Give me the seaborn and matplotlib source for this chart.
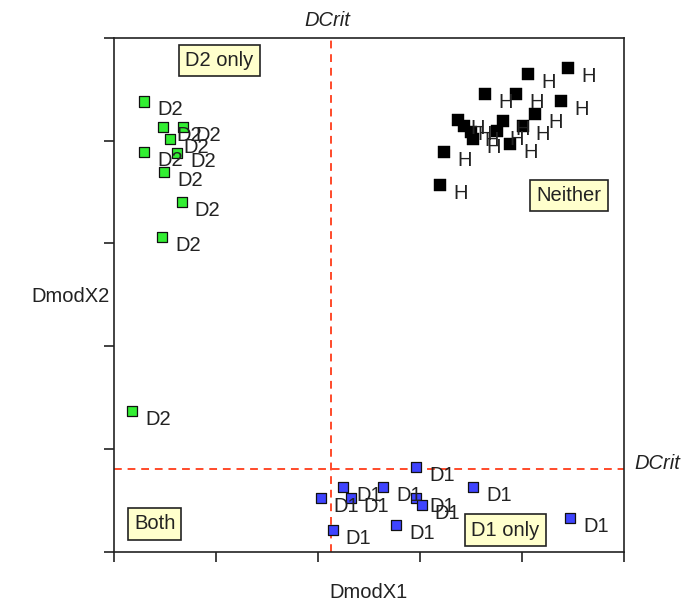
import matplotlib
matplotlib.use("Agg")
import matplotlib.pyplot as plt
import seaborn as sns
import pandas as pd

# ---- data ----
d2_x = [0.297, 0.483, 0.674, 0.549, 0.297, 0.621, 0.493, 0.664, 0.474, 0.179]
d2_y = [4.382, 4.138, 4.138, 4.016, 3.895, 3.885, 3.694, 3.402, 3.067, 1.370]

h_x = [4.062, 4.454, 3.637, 3.941, 4.382, 3.370, 3.434, 3.500, 3.523, 3.752,
       3.811, 4.007, 4.127, 3.882, 3.238, 3.196]
h_y = [4.648, 4.707, 4.454, 4.454, 4.382, 4.203, 4.145, 4.087, 4.016, 4.090,
       4.197, 4.145, 4.259, 3.967, 3.889, 3.571]

d1_x = [2.961, 2.248, 2.640, 2.026, 2.321, 2.961, 3.017, 2.144, 2.765, 3.523, 4.471]
d1_y = [0.822, 0.633, 0.633, 0.520, 0.520, 0.520, 0.455, 0.211, 0.260, 0.627, 0.331]

dcrit_x = 2.127
dcrit_y = 0.805

region_labels = ["D2 only", "Neither", "Both", "D1 only"]
region_x = [1.034, 4.461, 0.399, 3.838]
region_y = [4.778, 3.463, 0.270, 0.211]

x_ticks = [0, 1, 2, 3, 4, 5]
y_ticks = [0, 1, 2, 3, 4, 5]

# ---- style ----
sns.set_style("white")
plt.rcParams["font.family"] = ["Liberation Sans", "DejaVu Sans"]
FS = 14.5
TXT = "#222222"

fig = plt.figure(figsize=(6.87, 6.03), dpi=100)
ax = fig.add_axes([114 / 687, (603 - 551.7) / 603, 510 / 687, 513.7 / 603])

df = pd.concat([
    pd.DataFrame({"x": d2_x, "y": d2_y, "grp": "D2"}),
    pd.DataFrame({"x": d1_x, "y": d1_y, "grp": "D1"}),
])
sns.scatterplot(data=df, x="x", y="y", hue="grp", palette={"D2": "#33ee33", "D1": "#3f44ff"},
                marker="s", s=52, edgecolor="#111111", linewidth=0.9, legend=False, ax=ax, zorder=4)
sns.scatterplot(x=h_x, y=h_y, color="black", marker="s", s=78, edgecolor="black",
                linewidth=0.3, legend=False, ax=ax, zorder=4)

for xs, ys, lab in [(d2_x, d2_y, "D2"), (h_x, h_y, "H"), (d1_x, d1_y, "D1")]:
    for x, y in zip(xs, ys):
        ax.annotate(lab, (x, y), xytext=(13, -14), textcoords="offset pixels",
                    ha="left", va="baseline", fontsize=FS, color=TXT, zorder=5)

red = "#ff4a2a"
ax.axvline(dcrit_x, color=red, ls=(0, (4, 3)), lw=1.4, zorder=2)
ax.axhline(dcrit_y, color=red, ls=(0, (4, 3)), lw=1.4, zorder=2)

ax.annotate("DCrit", (dcrit_x, 1), xycoords=("data", "axes fraction"), xytext=(-4, 17),
            textcoords="offset pixels", ha="center", va="center", fontsize=FS,
            style="italic", color=TXT, annotation_clip=False)
ax.annotate("DCrit", (1, dcrit_y), xycoords=("axes fraction", "data"), xytext=(10, 5),
            textcoords="offset pixels", ha="left", va="center", fontsize=FS,
            style="italic", color=TXT, annotation_clip=False)

for lab, x, y in zip(region_labels, region_x, region_y):
    ax.text(x, y, lab, ha="center", va="center", fontsize=FS, color=TXT, zorder=6,
            bbox=dict(boxstyle="square,pad=0.3", fc="#ffffcc", ec="#222222", lw=1.2))

ax.set_xlim(0, 5)
ax.set_ylim(0, 5)
ax.set_xticks(x_ticks)
ax.set_yticks(y_ticks)
ax.set_xticklabels([])
ax.set_yticklabels([])
ax.tick_params(axis="both", direction="out", length=7, width=1.2, color="#222222",
               bottom=True, left=True)
for sp in ax.spines.values():
    sp.set_color("#222222")
    sp.set_linewidth(1.2)

ax.set_xlabel("DmodX1", fontsize=FS, color=TXT, va="center")
ax.set_ylabel("DmodX2", fontsize=FS, color=TXT, rotation=0, ha="center", va="center")
ax.xaxis.set_label_coords(0.5, -0.08)
ax.yaxis.set_label_coords(-0.086, 0.496)

fig.savefig("out.png", dpi=100)
